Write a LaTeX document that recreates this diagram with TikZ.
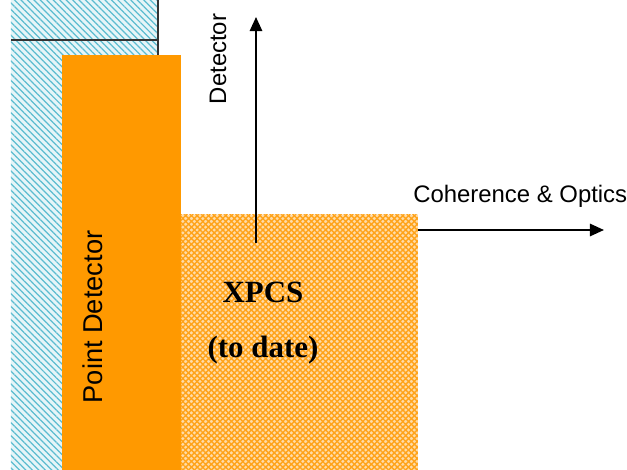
\documentclass[tikz,border=0pt]{standalone}
\usepackage{fontspec}
\setmainfont{Liberation Sans}
\newfontfamily\timesfont{Liberation Serif}
\usetikzlibrary{arrows.meta, patterns.meta, positioning}
\definecolor{pdOrange}{HTML}{FF9900}
\definecolor{hatchCyan}{HTML}{5BBCD0}
\definecolor{paleCyan}{HTML}{D2EDF2}
\definecolor{paleOrange}{HTML}{FFDCA8}

\begin{document}
\begin{tikzpicture}[
  x=0.02cm, y=-0.02cm,
  axis/.style={-{Triangle[length=8pt, width=7pt]}, line width=1.2pt, black},
  sideLabel/.style={font=\fontsize{13.6}{16}\selectfont, inner sep=0pt},
  xpcsLabel/.style={font=\timesfont\bfseries\fontsize{17.6}{20}\selectfont, inner sep=0pt},
]
\useasboundingbox (0,0) rectangle (627,470);

% Hatched wall on the left
\fill[paleCyan!55] (11,0) rectangle (158,470);
\fill[pattern={Lines[angle=-45, distance=2.6pt, line width=0.7pt]}, pattern color=hatchCyan]
  (11,0) rectangle (158,470);
\draw[line width=0.9pt, black!80] (11,40) -- (158,40);
\draw[line width=0.9pt, black!80] (158,0) -- (158,60);

% Point detector column
\fill[pdOrange] (62,55) rectangle (181,470);
\node[sideLabel, rotate=90, font=\fontsize{15.5}{18}\selectfont] (point) at (93,317) {Point Detector};

% XPCS region
\fill[paleOrange] (181,215) rectangle (418,470);
\fill[pattern={Lines[angle=45, distance=2.3pt, line width=0.8pt]}, pattern color=pdOrange!90]
  (181,215) rectangle (418,470);
\fill[pattern={Lines[angle=-45, distance=2.3pt, line width=0.8pt]}, pattern color=pdOrange!90]
  (181,215) rectangle (418,470);
\node[xpcsLabel] (xpcs) at (263,292) {XPCS};
\node[xpcsLabel] (todate) at (263,350) {(to date)};

% Axes
\coordinate (detBase) at (256,243);
\coordinate (detTip) at (256,17);
\coordinate (cohBase) at (418,230);
\coordinate (cohTip) at (604,230);
\draw[axis] (detBase) -- (detTip);
\draw[axis] (cohBase) -- (cohTip);
\node[sideLabel, rotate=90] (detector) at (218,59) {Detector};
\node[sideLabel, anchor=west] (coherence) at (413,196) {Coherence \& Optics};

\end{tikzpicture}
\end{document}
